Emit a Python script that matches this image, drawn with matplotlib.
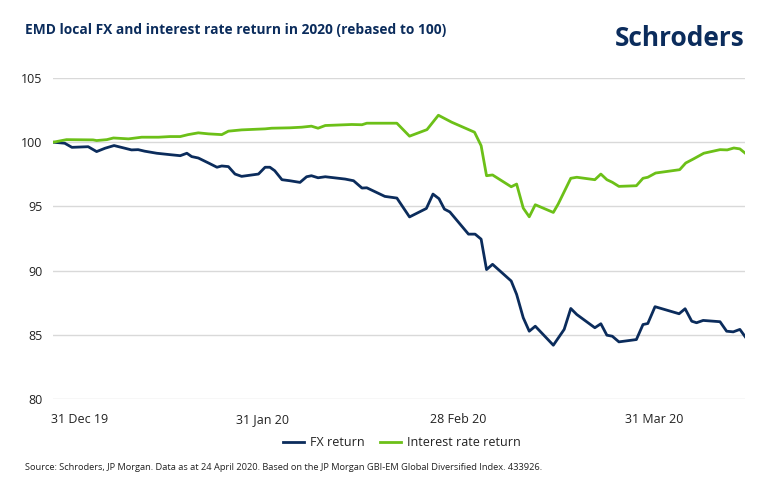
import matplotlib
matplotlib.use('Agg')
import matplotlib.pyplot as plt

plt.rcParams['font.family'] = ['Open Sans', 'DejaVu Sans']

# days since 31 Dec 2019, values rebased to 100
fx_days = [0, 1.9, 3.1, 5.8, 7.2, 8.6, 10.1, 11.9, 13.0, 14.1, 15.2, 17.2, 19.4, 21.1, 22.2,
           23.0, 24.1, 25.8, 27.2, 28.0, 29.1, 30.2, 31.3, 34.1, 35.2, 36.0, 36.8, 38.0, 39.3,
           41.0, 42.1, 42.9, 44.0, 45.2, 48.5, 49.9, 51.3, 52.1, 55.1, 57.1, 59.2, 62.0, 63.1,
           64.1, 65.0, 65.9, 69.0, 70.1, 71.1, 72.0, 73.0, 76.1, 77.0, 78.1, 79.1, 80.1, 83.1,
           84.9, 86.0, 87.0, 90.0, 91.0, 92.0, 92.9, 94.0, 96.9, 98.0, 98.8, 100.0, 104.0, 105.0,
           106.1, 106.9, 108.0, 110.8, 111.9, 113.0, 114.1, 115]
fx_vals = [100.0, 99.92, 99.6, 99.65, 99.27, 99.53, 99.74, 99.53, 99.4, 99.42, 99.3, 99.14, 99.03,
           98.95, 99.14, 98.88, 98.77, 98.38, 98.05, 98.15, 98.1, 97.52, 97.34, 97.52, 98.05, 98.05,
           97.78, 97.08, 97.0, 96.87, 97.31, 97.39, 97.23, 97.31, 97.13, 97.0, 96.43, 96.45, 95.78,
           95.65, 94.18, 94.84, 95.96, 95.6, 94.79, 94.57, 92.84, 92.84, 92.45, 90.08, 90.49, 89.19,
           88.15, 86.33, 85.28, 85.67, 84.19, 85.42, 87.05, 86.58, 85.55, 85.86, 84.97, 84.89, 84.45,
           84.63, 85.8, 85.88, 87.19, 86.64, 87.03, 86.06, 85.94, 86.12, 86.02, 85.28, 85.23, 85.42,
           84.84]

ir_days = [0, 2.2, 6.6, 7.2, 8.9, 10.0, 12.5, 14.7, 17.5, 19.4, 21.1, 22.4, 24.1, 25.8, 28.0,
           29.1, 31.3, 35.2, 36.3, 39.3, 41.3, 42.9, 44.0, 45.2, 49.6, 51.3, 52.1, 57.1, 59.2,
           62.1, 64.0, 66.2, 70.0, 71.1, 72.0, 73.0, 76.1, 77.0, 78.1, 79.1, 80.1, 83.1, 83.9,
           86.0, 87.0, 90.0, 91.0, 92.0, 92.9, 94.0, 96.9, 98.0, 98.8, 100.1, 104.1, 105.1, 106.4,
           108.1, 110.8, 112.0, 113.1, 114.1, 115]
ir_vals = [100.0, 100.2, 100.18, 100.13, 100.2, 100.33, 100.26, 100.39, 100.39, 100.44, 100.44,
           100.59, 100.73, 100.65, 100.59, 100.86, 100.96, 101.04, 101.09, 101.12, 101.17, 101.25,
           101.09, 101.3, 101.38, 101.36, 101.48, 101.48, 100.47, 100.98, 102.1, 101.56, 100.78,
           99.73, 97.39, 97.45, 96.53, 96.74, 94.87, 94.19, 95.13, 94.53, 95.18, 97.19, 97.27, 97.08,
           97.52, 97.08, 96.88, 96.56, 96.61, 97.19, 97.27, 97.6, 97.86, 98.38, 98.7, 99.14, 99.42,
           99.4, 99.55, 99.48, 99.14]

tick_days = [4.3, 34.7, 67.3, 99.8]
tick_labels = ['31 Dec 19', '31 Jan 20', '28 Feb 20', '31 Mar 20']
y_ticks = [80, 85, 90, 95, 100, 105]

navy = '#0b2c5c'
green = '#6cc018'

fig = plt.figure(figsize=(7.7, 4.9), dpi=100)
ax = fig.add_axes([0.0692, 0.1857, 0.8987, 0.6551])

ax.plot(fx_days, fx_vals, color=navy, lw=2.0, label='FX return', solid_joinstyle='round')
ax.plot(ir_days, ir_vals, color=green, lw=2.0, label='Interest rate return', solid_joinstyle='round')

ax.set_xlim(0, 115)
ax.set_ylim(80, 105)
ax.set_yticks(y_ticks)
ax.set_xticks(tick_days)
ax.set_xticklabels(tick_labels)
ax.grid(axis='y', color='#d9d9d9', lw=1)
ax.set_axisbelow(True)
for s in ax.spines.values():
    s.set_visible(False)
ax.tick_params(length=0, labelsize=9, colors='#222222')
ax.tick_params(axis='x', pad=10)
ax.tick_params(axis='y', pad=8)

fig.text(25 / 770, 1 - 30 / 490, 'EMD local FX and interest rate return in 2020 (rebased to 100)',
         fontsize=9.9, fontweight='bold', color=navy, va='center', ha='left')
fig.text(745 / 770, 1 - 38 / 490, 'Schroders', fontsize=19, fontweight='bold', color=navy,
         va='center', ha='right')

fig.legend(loc='center', bbox_to_anchor=(0.522, 1 - 443 / 490), ncol=2, frameon=False,
           fontsize=9, handlelength=1.7, columnspacing=1.2, handletextpad=0.5,
           labelcolor='#222222')

fig.text(25 / 770, 1 - 467 / 490,
         'Source: Schroders, JP Morgan. Data as at 24 April 2020. Based on the JP Morgan GBI-EM Global Diversified Index. 433926.',
         fontsize=6.65, color='#222222', va='center', ha='left')

fig.savefig('out.png', dpi=100)
